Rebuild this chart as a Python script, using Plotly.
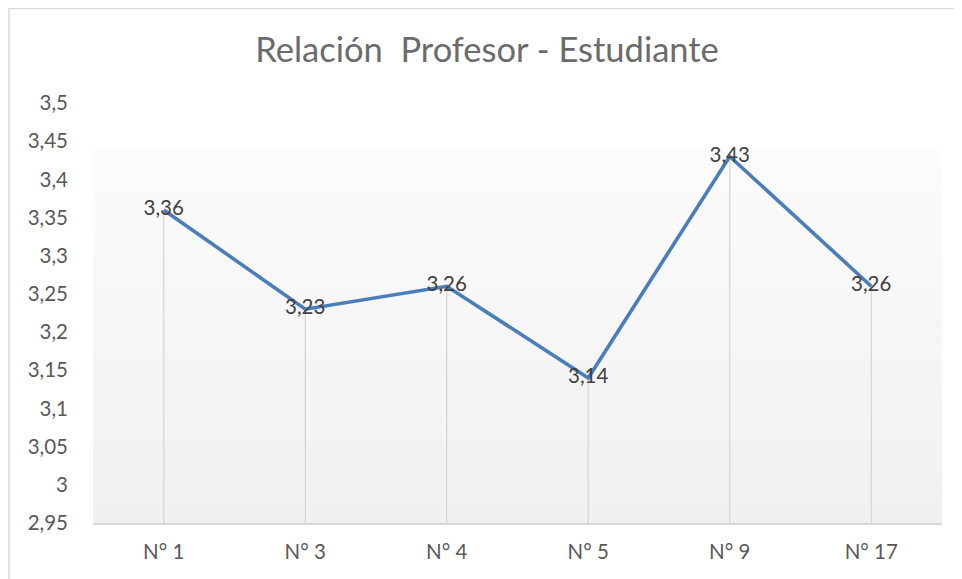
import plotly.graph_objects as go

categories = ["N° 1", "N° 3", "N° 4", "N° 5", "N° 9", "N° 17"]
values = [3.36, 3.23, 3.26, 3.14, 3.43, 3.26]
y_min, y_max, y_step = 2.95, 3.5, 0.05

FONT = "Lato"
# page body has an 8px margin: positions below are in figure coordinates
L, T = 85, 95
PW, PH = 849, 420
fig = go.Figure()

# background gradient bands (plot area)
n_bands = 60
g_top = 0.89  # paper fraction where gradient starts (white above)
shapes = []
for i in range(n_bands):
    f0 = g_top * i / n_bands
    f1 = g_top * (i + 1) / n_bands
    t = 1 - (f0 + f1) / 2 / g_top  # 0 at top, 1 at bottom
    c = round(252 - 12 * t)
    shapes.append(dict(type="rect", xref="paper", yref="paper", x0=0, x1=1,
                       y0=f0, y1=f1 + 0.001, fillcolor=f"rgb({c},{c},{c})",
                       line=dict(width=0), layer="below"))

# drop lines
for cat, v in zip(categories, values):
    shapes.append(dict(type="line", xref="x", yref="y", x0=cat, x1=cat,
                       y0=y_min, y1=v, line=dict(color="#d4d4d4", width=1.2),
                       layer="below"))

# chart border (top/left visible)
shapes.append(dict(type="rect", xref="paper", yref="paper",
                   x0=(1 - L) / PW, x1=(990 - L) / PW,
                   y0=(T + PH - 600) / PH, y1=(T + PH - 0.5) / PH,
                   line=dict(color="#d9d9d9", width=1.5), fillcolor="rgba(0,0,0,0)",
                   layer="below"))

fig.add_trace(go.Scatter(
    x=categories, y=values, mode="lines+text",
    line=dict(color="#4a7ebb", width=3.6),
    texttemplate="%{y:.2f}",
    textposition="middle center",
    textfont=dict(family=FONT, size=20.5, color="#404040"),
    cliponaxis=False,
    hoverinfo="skip",
))

fig.update_layout(
    width=962, height=579,
    margin=dict(l=L, r=962 - L - PW, t=T, b=579 - T - PH),
    paper_bgcolor="white", plot_bgcolor="white",
    separators=",.",
    showlegend=False,
    shapes=shapes,
    title=dict(text="Relación  Profesor - Estudiante", x=(487 - 8) / 962, xanchor="center",
               y=1 - 42 / 579, yanchor="middle",
               font=dict(family=FONT, size=34.5, color="#6b6b6b")),
    xaxis=dict(type="category", range=[-0.5, len(categories) - 0.5],
               showgrid=False, showline=True, linecolor="#d9d9d9",
               linewidth=1.5, ticks="", zeroline=False,
               tickfont=dict(family=FONT, size=20.5, color="#595959"),
               ticklabelstandoff=10),
    yaxis=dict(range=[y_min, y_max], dtick=y_step, tick0=y_min, showgrid=False,
               showline=False, zeroline=False, ticks="",
               tickfont=dict(family=FONT, size=20.5, color="#595959"),
               ticklabelstandoff=24),
)

fig.write_html("out.html")
